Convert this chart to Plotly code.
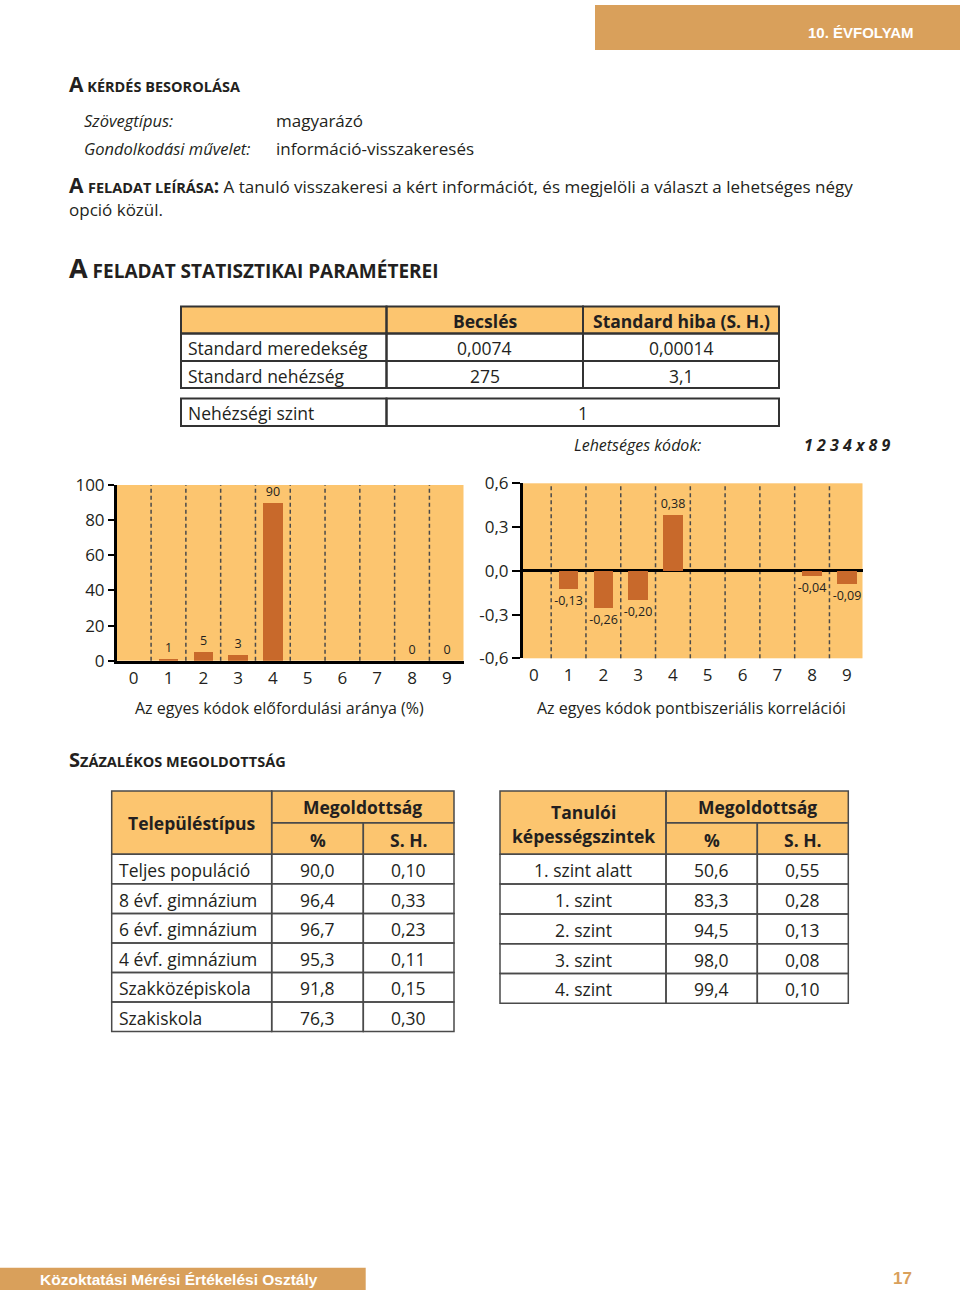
import plotly.graph_objects as go

# ---------------- data ----------------
codes = [0, 1, 2, 3, 4, 5, 6, 7, 8, 9]
code_freq = [None, 1, 5, 3, 90, None, None, None, 0, 0]
code_corr = [None, -0.13, -0.26, -0.20, 0.38, None, None, None, -0.04, -0.09]
freq_ticks = [0, 20, 40, 60, 80, 100]
corr_ticks = [-0.6, -0.3, 0.0, 0.3, 0.6]

param_names = ["Standard meredekség", "Standard nehézség"]
param_est = ["0,0074", "275"]
param_se = ["0,00014", "3,1"]
param_header = ["", "Becslés", "Standard hiba (S. H.)"]
difficulty_label = "Nehézségi szint"
difficulty_value = "1"
possible_codes = "1 2 3 4 x 8 9"

school_types = ["Teljes populáció", "8 évf. gimnázium", "6 évf. gimnázium",
                "4 évf. gimnázium", "Szakközépiskola", "Szakiskola"]
school_pct = [90.0, 96.4, 96.7, 95.3, 91.8, 76.3]
school_se = [0.10, 0.33, 0.23, 0.11, 0.15, 0.30]

levels = ["1. szint alatt", "1. szint", "2. szint", "3. szint", "4. szint"]
level_pct = [50.6, 83.3, 94.5, 98.0, 99.4]
level_se = [0.55, 0.28, 0.13, 0.08, 0.10]

# ---------------- style ----------------
W, H = 960, 1295
FONT = "Open Sans"
ARIAL = "Liberation Sans"
INK = "#231F20"
CHART_BG = "#FCC56F"
HEAD_BG = "#FCC56F"
BAR = "#C8692B"
BAND = "#D9A05B"


def px(x):
    return x / W


def py(y):
    return 1 - y / H


def hu(v, d):
    return f"{v:.{d}f}".replace(".", ",")


fig = go.Figure()

# ---------------- charts ----------------
label_font = dict(size=12.5, color=INK, family=FONT)
fig.add_trace(go.Bar(
    x=codes, y=code_freq, xaxis="x", yaxis="y", width=0.56,
    marker=dict(color=BAR, line=dict(width=0)),
    text=["" if v is None else str(v) for v in code_freq],
    textposition="outside", cliponaxis=False, constraintext="none",
    textfont=label_font, showlegend=False, hoverinfo="skip"))
fig.add_trace(go.Bar(
    x=codes, y=code_corr, xaxis="x2", yaxis="y2", width=0.56,
    marker=dict(color=BAR, line=dict(width=0)),
    text=["" if v is None else hu(v, 2) for v in code_corr],
    textposition="outside", cliponaxis=False, constraintext="none",
    textfont=label_font, showlegend=False, hoverinfo="skip"))

axis_font = dict(size=17, color=INK, family=FONT)
layout_axes = dict(
    xaxis=dict(domain=[px(117), px(463.5)], range=[-0.48, 9.48], anchor="y",
               tickvals=codes, ticks="", showline=True, linecolor="black",
               linewidth=3, showgrid=False, zeroline=False, tickfont=axis_font,
               fixedrange=True, automargin=False),
    yaxis=dict(domain=[py(660.7), py(485)], range=[0, 100], anchor="x",
               tickvals=freq_ticks, ticks="outside", ticklen=6, tickwidth=2,
               tickcolor="black", showline=True, linecolor="black", linewidth=3,
               showgrid=False, zeroline=False, tickfont=axis_font, fixedrange=True,
               automargin=False, ticklabelstandoff=0),
    xaxis2=dict(domain=[px(523), px(862.5)], range=[-0.31, 9.45], anchor="y2",
                tickvals=codes, ticks="", showline=False, showgrid=False,
                zeroline=False, tickfont=axis_font, fixedrange=True,
                automargin=False, ticklabelstandoff=5),
    yaxis2=dict(domain=[py(658.3), py(483.3)], range=[-0.6, 0.6], anchor="x2",
                tickvals=corr_ticks, ticktext=[hu(v, 1) for v in corr_ticks],
                ticks="outside", ticklen=8, tickwidth=2, tickcolor="black",
                showline=True, linecolor="black", linewidth=3, showgrid=False,
                zeroline=True, zerolinecolor="black", zerolinewidth=3,
                tickfont=axis_font, fixedrange=True, automargin=False),
)

shapes = []
annotations = []

# dashed separators between codes
for xr, yr in (("x", "y domain"), ("x2", "y2 domain")):
    for k in codes[:-1]:
        shapes.append(dict(type="line", xref=xr, yref=yr, x0=k + 0.5, x1=k + 0.5,
                           y0=0, y1=1, layer="below",
                           line=dict(color="#4a4a4a", width=1.5, dash="4px,3px")))


def txt(x, y, s, size=17, anchor="left", color=INK, family=FONT, bold=False,
        italic=False):
    if bold:
        s = f"<b>{s}</b>"
    if italic:
        s = f"<i>{s}</i>"
    annotations.append(dict(x=px(x), y=py(y), xref="paper", yref="paper", text=s,
                            showarrow=False, xanchor=anchor, yanchor="middle",
                            borderpad=0,
                            font=dict(size=size, color=color, family=family)))


def rect(x0, y0, x1, y1, fill="rgba(0,0,0,0)", lc=None, lw=0):
    shapes.append(dict(type="rect", xref="paper", yref="paper",
                       x0=px(x0), x1=px(x1), y0=py(y1), y1=py(y0),
                       fillcolor=fill, layer="above",
                       line=dict(color=lc if lc else "rgba(0,0,0,0)", width=lw)))


# axis titles
txt(279, 708, "Az egyes kódok előfordulási aránya (%)", 16, "center")
txt(691, 708, "Az egyes kódok pontbiszeriális korrelációi", 16, "center")

# ---------------- page header / footer ----------------
rect(595, 5, 960, 50, fill=BAND)
txt(915, 33, "10. ÉVFOLYAM", 15, "right", "white", ARIAL, bold=True)
rect(0, 1267.7, 365.7, 1290, fill=BAND)
txt(39, 1279, "Közoktatási Mérési Értékelési Osztály", 15.5, "left", "white",
    ARIAL, bold=True)
txt(913, 1278, "17", 17, "right", BAND, ARIAL, bold=True)

# ---------------- section texts ----------------
txt(68, 84, "<span style='font-size:21px'>A</span> KÉRDÉS BESOROLÁSA", 14.5,
    bold=True)
txt(83, 120, "Szövegtípus:", 16.5, italic=True)
txt(275, 120, "magyarázó", 17)
txt(83, 148, "Gondolkodási művelet:", 16.5, italic=True)
txt(275, 148, "információ-visszakeresés", 17)
txt(68, 185,
    "<b><span style='font-size:21px'>A</span> <span style='font-size:14.5px'>"
    "FELADAT LEÍRÁSA</span><span style='font-size:19px'>:</span></b> "
    "A tanuló visszakeresi a kért információt, és "
    "megjelöli a választ a lehetséges négy", 17)
txt(68, 209, "opció közül.", 17)
txt(68, 268, "<span style='font-size:27px'>A</span> FELADAT STATISZTIKAI "
    "PARAMÉTEREI", 19, bold=True)
txt(68, 759, "<span style='font-size:20px'>S</span>ZÁZALÉKOS MEGOLDOTTSÁG", 14.5,
    bold=True)

# ---------------- parameter table ----------------
LC1, LW1 = "#333333", 2
c1 = [181, 386.5, 583, 779]
r1 = [306.5, 333.5, 361, 388]
rect(c1[0], r1[0], c1[3], r1[1], fill=HEAD_BG)
for i in range(3):
    for j in range(3):
        rect(c1[j], r1[i], c1[j + 1], r1[i + 1], lc=LC1, lw=LW1)
for j in (1, 2):
    txt((c1[j] + c1[j + 1]) / 2, (r1[0] + r1[1]) / 2 + 1, param_header[j], 17.5,
        "center", bold=True)
for i, name in enumerate(param_names):
    yc = (r1[i + 1] + r1[i + 2]) / 2 + 1
    txt(c1[0] + 6, yc, name, 17.5)
    txt((c1[1] + c1[2]) / 2, yc, param_est[i], 17.5, "center")
    txt((c1[2] + c1[3]) / 2, yc, param_se[i], 17.5, "center")
rd = [398.5, 426]
rect(c1[0], rd[0], c1[1], rd[1], lc=LC1, lw=LW1)
rect(c1[1], rd[0], c1[3], rd[1], lc=LC1, lw=LW1)
txt(c1[0] + 6, (rd[0] + rd[1]) / 2 + 1, difficulty_label, 17.5)
txt((c1[1] + c1[3]) / 2, (rd[0] + rd[1]) / 2 + 1, difficulty_value, 17.5, "center")
txt(702, 445, "Lehetséges kódok:", 16, "right", italic=True)
txt(891, 445, possible_codes, 16, "right", bold=True, italic=True)

# ---------------- solution rate tables ----------------
LC2, LW2 = "#4a4a4a", 1.5


def solution_table(cols, top, split, head_bot, row_h, names, pct, se, head1,
                   name_align):
    rect(cols[0], top, cols[3], head_bot, fill=HEAD_BG)
    rect(cols[0], top, cols[1], head_bot, lc=LC2, lw=LW2)
    rect(cols[1], top, cols[3], split, lc=LC2, lw=LW2)
    rect(cols[1], split, cols[2], head_bot, lc=LC2, lw=LW2)
    rect(cols[2], split, cols[3], head_bot, lc=LC2, lw=LW2)
    if len(head1) == 1:
        txt((cols[0] + cols[1]) / 2, (top + head_bot) / 2, head1[0], 17.5,
            "center", bold=True)
    else:
        txt((cols[0] + cols[1]) / 2, (top + head_bot) / 2 - 11, head1[0], 17.5,
            "center", bold=True)
        txt((cols[0] + cols[1]) / 2, (top + head_bot) / 2 + 13, head1[1], 17.5,
            "center", bold=True)
    txt((cols[1] + cols[3]) / 2, (top + split) / 2, "Megoldottság", 17.5,
        "center", bold=True)
    txt((cols[1] + cols[2]) / 2, (split + head_bot) / 2 + 1, "%", 17.5,
        "center", bold=True)
    txt((cols[2] + cols[3]) / 2, (split + head_bot) / 2 + 1, "S. H.", 17.5,
        "center", bold=True)
    for i, name in enumerate(names):
        y0 = head_bot + i * row_h
        y1 = y0 + row_h
        for j in range(3):
            rect(cols[j], y0, cols[j + 1], y1, lc=LC2, lw=LW2)
        yc = (y0 + y1) / 2 + 1
        if name_align == "left":
            txt(cols[0] + 6, yc, name, 17.5)
        else:
            txt((cols[0] + cols[1]) / 2, yc, name, 17.5, "center")
        txt((cols[1] + cols[2]) / 2, yc, hu(pct[i], 1), 17.5, "center")
        txt((cols[2] + cols[3]) / 2, yc, hu(se[i], 2), 17.5, "center")


solution_table([111.7, 271.7, 363.3, 454], 791, 822.7, 854.3, 29.55,
               school_types, school_pct, school_se, ["Településtípus"], "left")
solution_table([500, 666, 757.3, 848.3], 791, 822.7, 854.3, 29.8,
               levels, level_pct, level_se,
               ["Tanulói", "képességszintek"], "center")

fig.update_layout(
    width=W, height=H, autosize=False,
    margin=dict(l=0, r=0, t=0, b=0, pad=0, autoexpand=False),
    paper_bgcolor="white", plot_bgcolor=CHART_BG,
    font=dict(family=FONT, color=INK),
    bargap=0, showlegend=False,
    shapes=shapes, annotations=annotations,
    **layout_axes,
)

fig.write_html("out.html", config={"displayModeBar": False})
